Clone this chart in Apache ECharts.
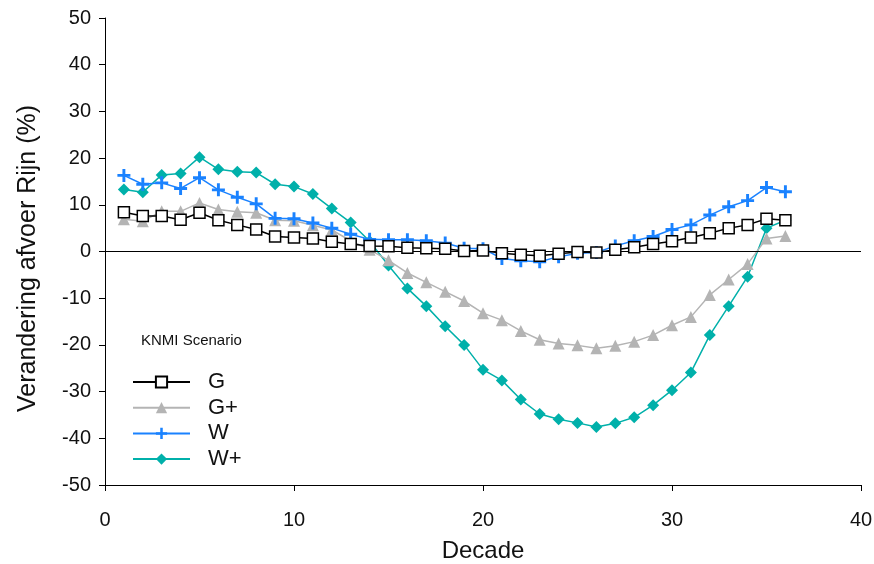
<!DOCTYPE html>
<html>
<head>
<meta charset="utf-8">
<script src="https://cdn.jsdelivr.net/npm/echarts@6/dist/echarts.min.js"></script>
<style>html,body{margin:0;padding:0;background:#fff}#c{width:874px;height:564px}</style>
</head>
<body>
<div id="c"></div>
<script>
var decades = [1,2,3,4,5,6,7,8,9,10,11,12,13,14,15,16,17,18,19,20,21,22,23,24,25,26,27,28,29,30,31,32,33,34,35,36];
var G = [8.4,7.6,7.6,6.8,8.3,6.7,5.7,4.7,3.2,3.0,2.8,2.1,1.6,1.2,1.1,0.8,0.7,0.6,0.1,0.2,-0.4,-0.7,-0.9,-0.5,-0.1,-0.2,0.4,0.9,1.6,2.2,3.0,3.9,5.0,5.7,7.0,6.7];
var Gplus = [6.9,6.5,8.6,8.6,10.4,9.0,8.5,8.3,6.7,6.6,5.6,4.6,2.3,0.4,-1.9,-4.6,-6.6,-8.6,-10.6,-13.2,-14.7,-17.0,-18.9,-19.7,-20.1,-20.7,-20.2,-19.3,-17.9,-15.8,-14.0,-9.3,-6.0,-2.7,2.8,3.3];
var W = [16.3,14.4,14.7,13.5,15.8,13.2,11.6,10.2,7.1,7.0,6.1,5.0,3.7,2.6,2.5,2.5,2.3,1.8,0.7,0.6,-1.5,-2.0,-2.2,-1.1,-0.4,-0.2,1.2,2.3,3.2,4.7,5.7,7.8,9.6,10.9,13.7,12.8];
var Wplus = [13.3,12.7,16.4,16.7,20.2,17.6,17.1,16.9,14.4,13.9,12.3,9.2,6.2,2.2,-3.0,-7.9,-11.7,-16.0,-20.0,-25.3,-27.6,-31.7,-34.8,-35.9,-36.7,-37.6,-36.8,-35.5,-32.9,-29.7,-25.9,-17.9,-11.7,-5.4,5.0,6.7];
var yTicks = [-50,-40,-30,-20,-10,0,10,20,30,40,50];
var xTicks = [0,10,20,30,40];
var names = ['G','G+','W','W+'];

function pairs(arr){ return decades.map(function(d,i){ return [d, arr[i]]; }); }
var font = 'Liberation Sans, Arial, sans-serif';
var plusPath = 'path://M-0.9,-4 H0.9 V-0.9 H4 V0.9 H0.9 V4 H-0.9 V0.9 H-4 V-0.9 H-0.9 Z';

var chart = echarts.init(document.getElementById('c'), null, {renderer:'canvas'});
chart.setOption({
  animation:false,
  backgroundColor:'#fff',
  title:{text:'KNMI Scenario', left:141, top:333, padding:0, textStyle:{fontFamily:font, fontSize:15, fontWeight:'normal', color:'#111'}},
  legend:{
    orient:'vertical', left:132, top:371, padding:0, itemWidth:57, itemHeight:14, itemGap:3.7,
    data:names,
    textStyle:{fontFamily:font, fontSize:22, lineHeight:20, color:'#111', padding:[0,0,0,13]}
  },
  grid:{left:105, right:13, top:18, bottom:79, outerBoundsMode:'none', containLabel:false},
  xAxis:{
    type:'value', min:0, max:40, interval:10,
    name:'Decade', nameLocation:'middle', nameGap:54,
    nameTextStyle:{fontFamily:font, fontSize:24, color:'#111'},
    axisLine:{show:true, onZero:false, lineStyle:{color:'#000', width:1}},
    axisTick:{show:true, length:6, lineStyle:{color:'#000'}},
    axisLabel:{fontFamily:font, fontSize:20, color:'#111', margin:25},
    splitLine:{show:false}
  },
  yAxis:{
    type:'value', min:-50, max:50, interval:10,
    name:'Verandering afvoer Rijn (%)', nameLocation:'middle', nameGap:64,
    nameTextStyle:{fontFamily:font, fontSize:25, color:'#111', padding:[0,14,0,0]},
    axisLine:{show:true, onZero:false, lineStyle:{color:'#000', width:1}},
    axisTick:{show:true, length:6, lineStyle:{color:'#000'}},
    axisLabel:{fontFamily:font, fontSize:20, color:'#111', margin:14},
    splitLine:{show:false}
  },
  series:[
    {name:'G', type:'line', data:pairs(G), symbol:'rect', symbolSize:11, z:5,
     lineStyle:{color:'#000', width:1.5}, itemStyle:{color:'#fff', borderColor:'#000', borderWidth:1.5},
     markLine:{silent:true, symbol:'none', label:{show:false}, lineStyle:{color:'#000', width:1, type:'solid'}, data:[{yAxis:0}]}},
    {name:'G+', type:'line', data:pairs(Gplus), symbol:'triangle', symbolSize:12, z:3,
     lineStyle:{color:'#b4b4b4', width:1.5}, itemStyle:{color:'#b4b4b4'}},
    {name:'W', type:'line', data:pairs(W), symbol:plusPath, symbolSize:13, z:4,
     lineStyle:{color:'#1a82ff', width:1.5}, itemStyle:{color:'#1a82ff'}},
    {name:'W+', type:'line', data:pairs(Wplus), symbol:'diamond', symbolSize:12, z:2,
     lineStyle:{color:'#00b0aa', width:1.5}, itemStyle:{color:'#00b0aa'}}
  ]
});
</script>
</body>
</html>
